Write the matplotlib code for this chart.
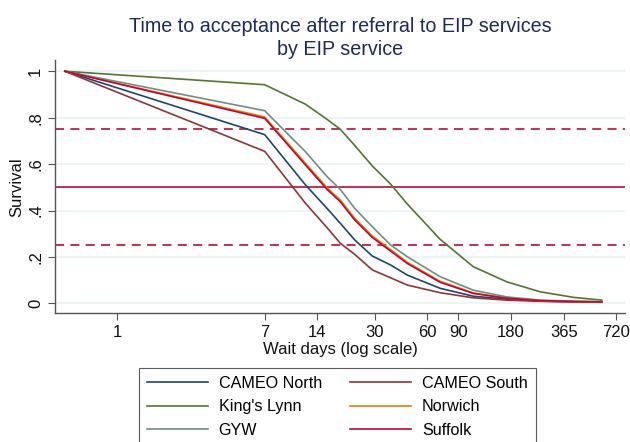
import matplotlib
matplotlib.use("Agg")
import matplotlib.pyplot as plt

plt.rcParams["font.family"] = ["Liberation Sans", "DejaVu Sans"]

# wait time (days) and survival per EIP service
days = [0.5, 7, 12, 16, 19, 23, 29, 37, 46, 71, 110, 171, 266, 413, 600]

cameo_north = [1.0, 0.727, 0.510, 0.408, 0.345, 0.273, 0.204, 0.165, 0.122,
               0.065, 0.031, 0.018, 0.010, 0.007, 0.005]
cameo_south = [1.0, 0.655, 0.431, 0.325, 0.259, 0.211, 0.144, 0.110, 0.079,
               0.046, 0.024, 0.014, 0.009, 0.006, 0.005]
kings_lynn = [1.0, 0.942, 0.858, 0.792, 0.750, 0.680, 0.592, 0.513, 0.428,
              0.276, 0.158, 0.093, 0.050, 0.026, 0.014]
norwich = [1.0, 0.803, 0.603, 0.497, 0.445, 0.366, 0.290, 0.231, 0.177,
           0.095, 0.045, 0.023, 0.012, 0.008, 0.006]
gyw = [1.0, 0.830, 0.653, 0.545, 0.491, 0.409, 0.330, 0.251, 0.201,
       0.115, 0.057, 0.028, 0.014, 0.010, 0.008]
suffolk = [1.0, 0.797, 0.596, 0.490, 0.438, 0.359, 0.284, 0.225, 0.172,
           0.091, 0.043, 0.022, 0.012, 0.008, 0.006]

services = ["CAMEO North", "CAMEO South", "King's Lynn", "Norwich", "GYW", "Suffolk"]
series = [cameo_north, cameo_south, kings_lynn, norwich, gyw, suffolk]
colors = ["#1a476f", "#90353b", "#55752f", "#e37e00", "#6e8e84", "#c10534"]

x_ticks = [1, 7, 14, 30, 60, 90, 180, 365, 720]
y_ticks = [0, 0.2, 0.4, 0.6, 0.8, 1]
y_labels = ["0", ".2", ".4", ".6", ".8", "1"]
ref_solid = [0.5]
ref_dashed = [0.25, 0.75]

fig = plt.figure(figsize=(6.3, 4.42), dpi=100)
fig.patch.set_facecolor("white")
ax = fig.add_axes([0.0873, 0.291, 0.905, 0.573])

for yv in y_ticks:
    ax.axhline(yv, color="#eaf2f3", lw=1.2, zorder=0)
for yv in ref_dashed:
    ax.axhline(yv, color="#c41e46", lw=1.3, ls=(0, (5, 3.5)), zorder=1)
for yv in ref_solid:
    ax.axhline(yv, color="#c41e46", lw=1.3, zorder=1)

lines = {}
for name, vals, c in zip(services, series, colors):
    lines[name], = ax.plot(days, vals, color=c, lw=1.2, label=name, zorder=3)

ax.set_xscale("log")
ax.set_xlim(0.439, 817)
ax.set_ylim(-0.043, 1.048)
ax.set_xticks(x_ticks)
ax.set_xticklabels([str(t) for t in x_ticks])
ax.minorticks_off()
ax.set_yticks(y_ticks)
ax.set_yticklabels(y_labels, rotation=90, va="center")
ax.tick_params(labelsize=12, length=5, color="#555555", labelcolor="#111111")

for s in ["top", "right"]:
    ax.spines[s].set_visible(False)
for s in ["left", "bottom"]:
    ax.spines[s].set_color("#555555")
    ax.spines[s].set_linewidth(1.0)

ax.set_xlabel("Wait days (log scale)", fontsize=12, labelpad=1, color="#111111")
ax.set_ylabel("Survival", fontsize=12, labelpad=3, color="#111111")
ax.set_title("Time to acceptance after referral to EIP services\nby EIP service",
             fontsize=14.2, color="#1e2a5c", pad=4, linespacing=1.25)

# Stata fills legend rows first; matplotlib fills columns, so reorder
order = ["CAMEO North", "King's Lynn", "GYW", "CAMEO South", "Norwich", "Suffolk"]
leg = fig.legend([lines[n] for n in order], order,
                 loc="upper left", bbox_to_anchor=(139 / 630, 1 - 368 / 442),
                 borderaxespad=0, ncol=2, fontsize=11.6, frameon=True,
                 fancybox=False, edgecolor="#333333", handlelength=3.8,
                 handletextpad=0.65, columnspacing=1.75, labelspacing=0.52,
                 borderpad=0.5)
leg.get_frame().set_linewidth(0.8)

fig.savefig("out.png", dpi=100)
